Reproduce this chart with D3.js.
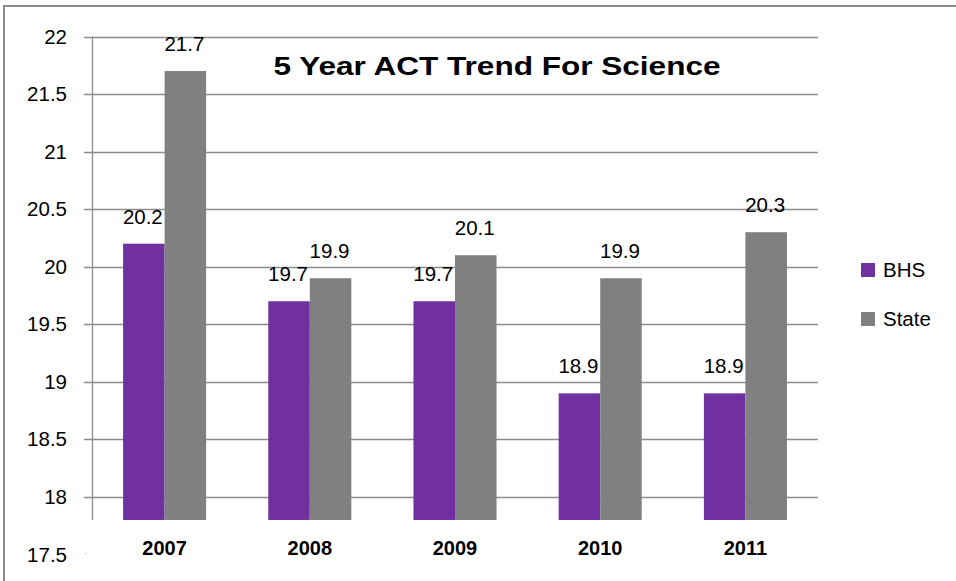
<!DOCTYPE html>
<html lang="en">
<head>
    <meta charset="utf-8">
    <title>5 Year ACT Trend For Science</title>
    <script src="https://d3js.org/d3.v7.min.js"></script>
    <style>
        body { margin: 0; background: #fff; }
        text { font-family: "Liberation Sans", Arial, sans-serif; fill: #000; }
    </style>
</head>
<body>
    <div class="div_d3"></div>
    <script>
        let w = 956;
        let h = 581;

        // data
        let years = ["2007", "2008", "2009", "2010", "2011"];
        let bhs = [20.2, 19.7, 19.7, 18.9, 18.9];
        let state = [21.7, 19.9, 20.1, 19.9, 20.3];
        let seriesNames = ["BHS", "State"];
        let colors = ["#7030A0", "#808080"];
        let yTicks = [17.5, 18, 18.5, 19, 19.5, 20, 20.5, 21, 21.5, 22];
        let baseValue = 17.8;   // where the bars / category axis sit

        let left = 92, right = 818;

        let svg = d3.select(".div_d3").append("svg")
            .attr("width", w)
            .attr("height", h);

        // outer frame
        svg.append("rect")
            .attr("x", 4)
            .attr("y", 6)
            .attr("width", w + 10)
            .attr("height", h + 10)
            .attr("fill", "none")
            .attr("stroke", "#8c8c8c")
            .attr("stroke-width", 2);

        let y = d3.scaleLinear()
            .domain([17.5, 22])
            .range([554.5, 36.5]);

        let x = d3.scaleBand()
            .domain(years)
            .range([left, right])
            .paddingInner(0.428)
            .paddingOuter(0.214);

        let x1 = d3.scaleBand()
            .domain(seriesNames)
            .range([0, x.bandwidth()]);

        // gridlines
        svg.selectAll(".grid")
            .data(yTicks.filter(function (d) { return d >= 18; }))
            .enter()
            .append("line")
                .attr("x1", left - 8)
                .attr("x2", right)
                .attr("y1", function (d) { return Math.round(y(d)) + 0.5; })
                .attr("y2", function (d) { return Math.round(y(d)) + 0.5; })
                .attr("stroke", "#8c8c8c")
                .attr("stroke-width", 1.3);

        // tiny stub for the 17.5 tick
        svg.append("line")
            .attr("x1", left - 7)
            .attr("x2", left - 5)
            .attr("y1", y(17.5) - 1)
            .attr("y2", y(17.5) - 1)
            .attr("stroke", "#d0d0d0")
            .attr("stroke-width", 1);

        // y axis line
        svg.append("line")
            .attr("x1", left + 0.5)
            .attr("x2", left + 0.5)
            .attr("y1", y(22))
            .attr("y2", y(baseValue))
            .attr("stroke", "#8c8c8c")
            .attr("stroke-width", 1.3);

        // y tick labels
        svg.selectAll(".ylab")
            .data(yTicks)
            .enter()
            .append("text")
                .text(function (d) { return d; })
                .attr("x", 67)
                .attr("y", function (d) { return y(d) + 7; })
                .attr("text-anchor", "end")
                .attr("font-size", "20.5px");

        // bars
        let series = [bhs, state];
        series.forEach(function (vals, s) {
            svg.selectAll(".bar" + s)
                .data(vals)
                .enter()
                .append("rect")
                    .attr("x", function (d, i) { return x(years[i]) + x1(seriesNames[s]); })
                    .attr("y", function (d) { return y(d); })
                    .attr("width", x1.bandwidth())
                    .attr("height", function (d) { return y(baseValue) - y(d); })
                    .attr("fill", colors[s]);

            svg.selectAll(".lab" + s)
                .data(vals)
                .enter()
                .append("text")
                    .text(function (d) { return d.toFixed(1); })
                    .attr("x", function (d, i) { return x(years[i]) + x1(seriesNames[s]) + x1.bandwidth() / 2 - 1; })
                    .attr("y", function (d) { return y(d) - 20; })
                    .attr("text-anchor", "middle")
                    .attr("font-size", "20.5px");
        });

        // category labels
        svg.selectAll(".xlab")
            .data(years)
            .enter()
            .append("text")
                .text(function (d) { return d; })
                .attr("x", function (d) { return x(d) + x.bandwidth() / 2; })
                .attr("y", 555)
                .attr("text-anchor", "middle")
                .attr("font-weight", "bold")
                .attr("font-size", "20px");

        // title
        svg.append("text")
            .text("5 Year ACT Trend For Science")
            .attr("x", 497)
            .attr("y", 75)
            .attr("text-anchor", "middle")
            .attr("font-weight", "bold")
            .attr("font-size", "25px")
            .attr("textLength", 447)
            .attr("lengthAdjust", "spacingAndGlyphs");

        // legend
        let legend = svg.selectAll(".legend")
            .data(seriesNames)
            .enter()
            .append("g")
                .attr("transform", function (d, i) { return "translate(861," + (263 + i * 49) + ")"; });

        legend.append("rect")
            .attr("width", 14)
            .attr("height", 14)
            .attr("fill", function (d, i) { return colors[i]; });

        legend.append("text")
            .text(function (d) { return d; })
            .attr("x", 22)
            .attr("y", 14)
            .attr("font-size", "20.5px");
    </script>
</body>
</html>
